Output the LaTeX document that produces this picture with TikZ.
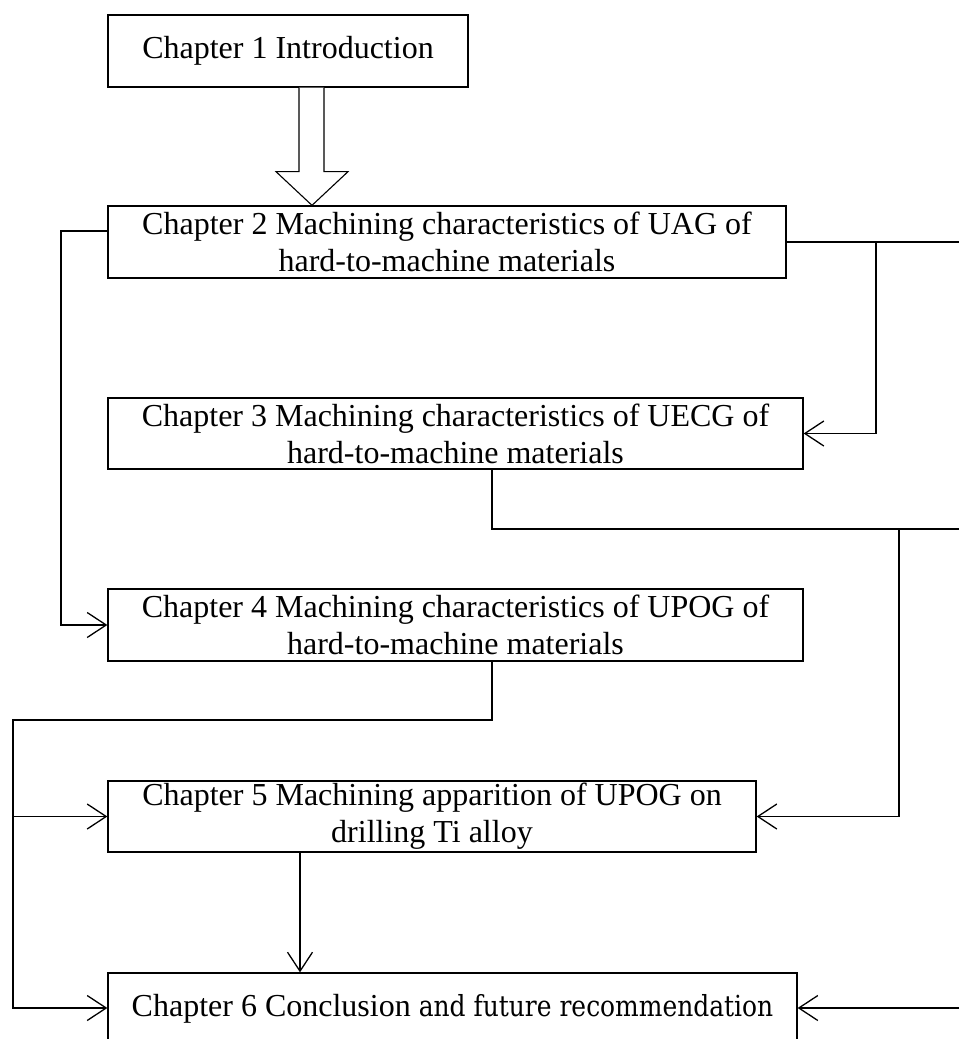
\documentclass[tikz,border=0pt]{standalone}
\usepackage{fontspec}
\setmainfont{Liberation Serif}
\newfontfamily\centfont[FakeStretch=0.86]{DejaVu Serif}
\usetikzlibrary{arrows.meta,calc}
\begin{document}
\begin{tikzpicture}[x=1pt,y=-1pt,
  chbox/.style={draw,line width=1.3pt,inner sep=0pt,align=center,
    font=\fontsize{32}{37}\selectfont},
  conn/.style={line width=1.3pt},
  arr/.style={line width=1.3pt,-{Straight Barb[length=19pt,width=25pt,line width=1.3pt]}}]
\clip (0,0) rectangle (959,1039);
\useasboundingbox (0,0) rectangle (959,1039);
\fill[white] (0,0) rectangle (959,1039);

\node[chbox,minimum width=360pt,minimum height=72pt] (b1) at (288,51) {Chapter 1 Introduction};
\node[chbox,minimum width=678pt,minimum height=72pt] (b2) at (447,242)
  {Chapter 2 Machining characteristics of UAG of\\hard-to-machine materials};
\node[chbox,minimum width=695pt,minimum height=71pt] (b3) at (455.5,433.5)
  {Chapter 3 Machining characteristics of UECG of\\hard-to-machine materials};
\node[chbox,minimum width=695pt,minimum height=72pt] (b4) at (455.5,625)
  {Chapter 4 Machining characteristics of UPOG of\\hard-to-machine materials};
\node[chbox,minimum width=648pt,minimum height=71pt] (b5) at (432,816.5)
  {Chapter 5 Machining apparition of UPOG on\\drilling Ti alloy};
\node[chbox,minimum width=689pt,minimum height=72pt] (b6) at (452.5,1009)
  {Chapter 6 Conclusion {\centfont\fontsize{29}{35}\selectfont and future recommendation}};

% hollow arrow from chapter 1 to chapter 2
\draw[line width=1.1pt,fill=white]
  ($(b1.south)+(11,0)$) -- ++(0,84) -- ++(-23,0) -- ($(b2.north)+(-135,0)$)
  -- ($(b1.south)+(60,84)$) -- ++(-24,0) -- ($(b1.south)+(36,0)$);

% connectors
\coordinate (rA) at (959,242);
\coordinate (rB) at (959,529);
\coordinate (rC) at (959,1008);
\draw[conn] (b2.east) -- (rA);
\draw[arr] (876,242) |- (b3.east);
\draw[arr] (b2.west |- 0,231) -| (61,625) -- (b4.west |- 0,625);
\draw[conn] (b3.south -| 492,0) |- (rB);
\draw[arr] (899,529) |- (b5.east);
\draw[arr] (b4.south -| 492,0) |- (13,720) |- (b6.west |- 0,1008);
\draw[arr] (13,816.5) -- (b5.west);
\draw[arr] (b5.south -| 300,0) -- (b6.north -| 300,0);
\draw[arr] (rC) -- (b6.east |- 0,1008);
\end{tikzpicture}
\end{document}
